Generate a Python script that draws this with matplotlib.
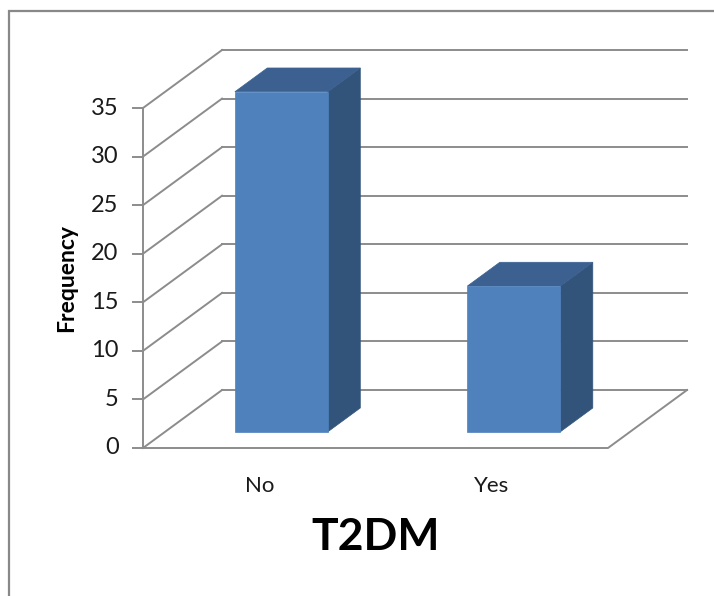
import matplotlib.pyplot as plt
from matplotlib.patches import Polygon, Rectangle

plt.rcParams['font.family'] = ['Lato', 'DejaVu Sans']

categories = ['No', 'Yes']
frequency = [35, 15]
y_ticks = [0, 5, 10, 15, 20, 25, 30, 35]
x_title = 'T2DM'
y_title = 'Frequency'

# pseudo-3D geometry, in data units (x = category slot, y = value)
DX = 0.34      # x shift of the back plane
DY = 5.97      # y shift of the back plane
D0, D1 = 0.28, 0.69   # depth span of the bars
BAR_W = 0.4

grid_col = '#8c8c8c'
front_col = '#4f81bd'
top_col = '#3c6190'
side_col = '#32547a'

fig = plt.figure(figsize=(7.14, 5.96), dpi=100)
ax = fig.add_axes([143 / 714, 148 / 596, 465 / 714, 340 / 596])
ax.set_xlim(0, len(categories))
ax.set_ylim(0, y_ticks[-1])
ax.axis('off')

n = len(categories)
lw = 1.4

# back wall gridlines + left wall diagonals
for v in y_ticks:
    ax.plot([DX, n + DX], [v + DY, v + DY], color=grid_col, lw=lw, clip_on=False, zorder=1)
    ax.plot([0, DX], [v, v + DY], color=grid_col, lw=lw, clip_on=False, zorder=1)

# front axis line and ticks
ax.plot([0, 0], [0, y_ticks[-1]], color=grid_col, lw=lw, clip_on=False, zorder=2)
for v in y_ticks:
    ax.plot([-0.043, 0], [v, v], color=grid_col, lw=lw, clip_on=False, zorder=2)
    ax.annotate(str(v), (0, v), xytext=(-17.5, 0), textcoords='offset points',
                ha='right', va='center', fontsize=17, color='#1a1a1a')

# floor
ax.plot([0, n, n + DX], [0, 0, DY], color=grid_col, lw=lw, clip_on=False, zorder=1)

# bars
for i, v in enumerate(frequency):
    xl = i + 0.5 - BAR_W / 2
    xr = i + 0.5 + BAR_W / 2
    front = [(xl + D0 * DX, D0 * DY), (xr + D0 * DX, D0 * DY),
             (xr + D0 * DX, v + D0 * DY), (xl + D0 * DX, v + D0 * DY)]
    side = [(xr + D0 * DX, D0 * DY), (xr + D1 * DX, D1 * DY),
            (xr + D1 * DX, v + D1 * DY), (xr + D0 * DX, v + D0 * DY)]
    top = [(xl + D0 * DX, v + D0 * DY), (xr + D0 * DX, v + D0 * DY),
           (xr + D1 * DX, v + D1 * DY), (xl + D1 * DX, v + D1 * DY)]
    for pts, c in [(side, side_col), (top, top_col), (front, front_col)]:
        ax.add_patch(Polygon(pts, closed=True, facecolor=c, edgecolor=c,
                             lw=0.5, clip_on=False, zorder=5))
    ax.annotate(categories[i], (i + 0.5, 0), xytext=(0, -27), textcoords='offset points',
                ha='center', va='center', fontsize=16, color='#1a1a1a')

ax.annotate(x_title, (n / 2, 0), xytext=(0, -64), textcoords='offset points',
            ha='center', va='center', fontsize=32, fontweight='bold', color='black')
ax.annotate(y_title, (0, y_ticks[-1] / 2), xytext=(-55, 0), textcoords='offset points',
            ha='center', va='center', rotation=90, fontsize=16.5, fontweight='bold',
            color='black')

# chart area border
fig.add_artist(Rectangle((9 / 714, -0.1), 1.2, 1.1 - 11 / 596, transform=fig.transFigure,
                         fill=False, edgecolor='#888888', lw=1.6))

fig.savefig('out.png', dpi=100)
